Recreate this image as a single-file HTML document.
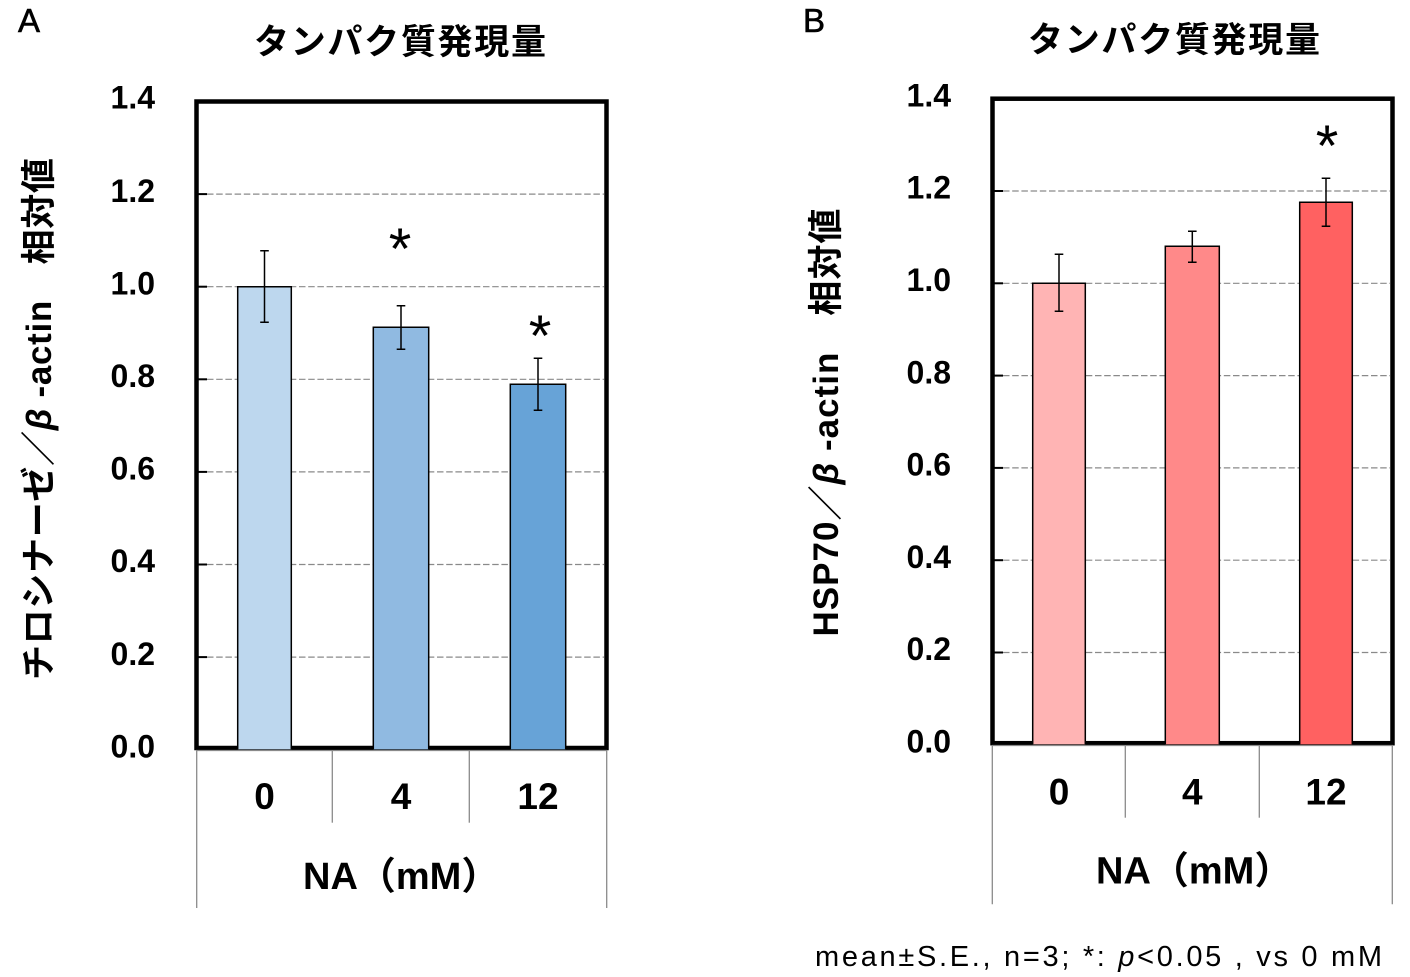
<!DOCTYPE html>
<html>
<head>
<meta charset="utf-8">
<style>
  html, body { margin: 0; padding: 0; background: #ffffff; }
  body { width: 1410px; height: 977px; overflow: hidden; }
  svg { display: block; }
  text { font-family: "Liberation Sans", "Noto Sans CJK JP", sans-serif; fill: #000; }
  .tick { font-size: 32px; font-weight: bold; }
  .cat { font-size: 37px; font-weight: bold; }
  .na { font-size: 38px; font-weight: bold; }
  .title { font-size: 35px; font-weight: bold; font-family: "Noto Sans CJK JP", "Liberation Sans", sans-serif; }
  .ylab { font-size: 35px; font-weight: bold; }
  .panel { font-size: 33px; stroke: #000; stroke-width: 0.6px; }
  .star { font-size: 58px; }
  .foot { font-size: 29px; }
</style>
</head>
<body>
<svg width="1410" height="977" viewBox="0 0 1410 977" xmlns="http://www.w3.org/2000/svg">
  <rect x="0" y="0" width="1410" height="977" fill="#ffffff"/>

  <!-- ================= PANEL A ================= -->
  <text class="panel" x="18" y="32">A</text>
  <text class="title" x="254" y="54" textLength="292" lengthAdjust="spacing">タンパク質発現量</text>

  <text class="ylab" transform="translate(51,419) rotate(-90)" text-anchor="middle" textLength="522" lengthAdjust="spacing">チロシナーゼ／<tspan font-style="italic">β</tspan> -actin　相対値</text>

  <g stroke="#8a8a8a" stroke-width="1.2" stroke-dasharray="6.5 2.7" fill="none">
    <line x1="207" y1="194.1" x2="604" y2="194.1"/>
    <line x1="207" y1="286.7" x2="604" y2="286.7"/>
    <line x1="207" y1="379.3" x2="604" y2="379.3"/>
    <line x1="207" y1="471.9" x2="604" y2="471.9"/>
    <line x1="207" y1="564.5" x2="604" y2="564.5"/>
    <line x1="207" y1="657.1" x2="604" y2="657.1"/>
  </g>
  <g stroke="#000" stroke-width="2">
    <line x1="198" y1="194.1" x2="207" y2="194.1"/>
    <line x1="198" y1="286.7" x2="207" y2="286.7"/>
    <line x1="198" y1="379.3" x2="207" y2="379.3"/>
    <line x1="198" y1="471.9" x2="207" y2="471.9"/>
    <line x1="198" y1="564.5" x2="207" y2="564.5"/>
    <line x1="198" y1="657.1" x2="207" y2="657.1"/>
  </g>

  <rect x="196.5" y="101.5" width="410" height="646.5" fill="none" stroke="#000" stroke-width="4.5"/>
  <line x1="196" y1="750.5" x2="607" y2="750.5" stroke="#8a8a8a" stroke-width="1.2"/>

  <rect x="237.7" y="286.7" width="53.6" height="462.6" fill="#BDD7EE"/>
  <path d="M237.7 749.3 V286.7 H291.3 V749.3" fill="none" stroke="#000" stroke-width="1.5"/>
  <rect x="373.3" y="327.3" width="55.4" height="422" fill="#90BAE1"/>
  <path d="M373.3 749.3 V327.3 H428.7 V749.3" fill="none" stroke="#000" stroke-width="1.5"/>
  <rect x="510.3" y="384.3" width="55.4" height="365" fill="#67A3D7"/>
  <path d="M510.3 749.3 V384.3 H565.7 V749.3" fill="none" stroke="#000" stroke-width="1.5"/>

  <g stroke="#000" stroke-width="1.5" fill="none">
    <path d="M264.5 250.7 V322.3 M260.2 250.7 H268.8 M260.2 322.3 H268.8"/>
    <path d="M401 305.7 V349.3 M396.7 305.7 H405.3 M396.7 349.3 H405.3"/>
    <path d="M538 358.3 V410.3 M533.7 358.3 H542.3 M533.7 410.3 H542.3"/>
  </g>
  <text class="star" x="400" y="269" text-anchor="middle">*</text>
  <text class="star" x="540" y="356" text-anchor="middle">*</text>

  <g>
    <text class="tick" x="155" y="108.4" text-anchor="end">1.4</text>
    <text class="tick" x="155" y="201.8" text-anchor="end">1.2</text>
    <text class="tick" x="155" y="294.4" text-anchor="end">1.0</text>
    <text class="tick" x="155" y="387" text-anchor="end">0.8</text>
    <text class="tick" x="155" y="479.6" text-anchor="end">0.6</text>
    <text class="tick" x="155" y="572.2" text-anchor="end">0.4</text>
    <text class="tick" x="155" y="664.8" text-anchor="end">0.2</text>
    <text class="tick" x="155" y="757.4" text-anchor="end">0.0</text>
  </g>

  <g stroke="#8a8a8a" stroke-width="1.3">
    <line x1="196.7" y1="750" x2="196.7" y2="908"/>
    <line x1="332.3" y1="750" x2="332.3" y2="822.7"/>
    <line x1="469.3" y1="750" x2="469.3" y2="822.7"/>
    <line x1="606.7" y1="750" x2="606.7" y2="908"/>
  </g>
  <text class="cat" x="264.5" y="809" text-anchor="middle">0</text>
  <text class="cat" x="401" y="809" text-anchor="middle">4</text>
  <text class="cat" x="538" y="809" text-anchor="middle">12</text>
  <text class="na" x="303" y="889">NA（mM）</text>

  <!-- ================= PANEL B ================= -->
  <text class="panel" x="803" y="32">B</text>
  <text class="title" x="1028" y="52" textLength="292" lengthAdjust="spacing">タンパク質発現量</text>

  <text class="ylab" transform="translate(838,422.5) rotate(-90)" text-anchor="middle" textLength="428" lengthAdjust="spacing">HSP70／<tspan font-style="italic">β</tspan> -actin　相対値</text>

  <g stroke="#8a8a8a" stroke-width="1.2" stroke-dasharray="6.5 2.7" fill="none">
    <line x1="1003" y1="191" x2="1390" y2="191"/>
    <line x1="1003" y1="283.3" x2="1390" y2="283.3"/>
    <line x1="1003" y1="375.6" x2="1390" y2="375.6"/>
    <line x1="1003" y1="467.9" x2="1390" y2="467.9"/>
    <line x1="1003" y1="560.2" x2="1390" y2="560.2"/>
    <line x1="1003" y1="652.5" x2="1390" y2="652.5"/>
  </g>
  <g stroke="#000" stroke-width="2">
    <line x1="994" y1="191" x2="1003" y2="191"/>
    <line x1="994" y1="283.3" x2="1003" y2="283.3"/>
    <line x1="994" y1="375.6" x2="1003" y2="375.6"/>
    <line x1="994" y1="467.9" x2="1003" y2="467.9"/>
    <line x1="994" y1="560.2" x2="1003" y2="560.2"/>
    <line x1="994" y1="652.5" x2="1003" y2="652.5"/>
  </g>

  <rect x="992.5" y="98.7" width="400" height="644.5" fill="none" stroke="#000" stroke-width="4.5"/>
  <line x1="992" y1="745.5" x2="1393" y2="745.5" stroke="#8a8a8a" stroke-width="1.2"/>

  <rect x="1032.7" y="283.3" width="52.6" height="461" fill="#FFB4B4"/>
  <path d="M1032.7 744.3 V283.3 H1085.3 V744.3" fill="none" stroke="#000" stroke-width="1.5"/>
  <rect x="1165.3" y="246.3" width="54" height="498" fill="#FF8989"/>
  <path d="M1165.3 744.3 V246.3 H1219.3 V744.3" fill="none" stroke="#000" stroke-width="1.5"/>
  <rect x="1299.7" y="202.3" width="52.6" height="542" fill="#FF6161"/>
  <path d="M1299.7 744.3 V202.3 H1352.3 V744.3" fill="none" stroke="#000" stroke-width="1.5"/>

  <g stroke="#000" stroke-width="1.5" fill="none">
    <path d="M1059 254.3 V311.3 M1054.7 254.3 H1063.3 M1054.7 311.3 H1063.3"/>
    <path d="M1192.3 231.3 V262.3 M1188 231.3 H1196.6 M1188 262.3 H1196.6"/>
    <path d="M1326 178.3 V226.3 M1321.7 178.3 H1330.3 M1321.7 226.3 H1330.3"/>
  </g>
  <text class="star" x="1327" y="166" text-anchor="middle">*</text>

  <g>
    <text class="tick" x="951" y="106.4" text-anchor="end">1.4</text>
    <text class="tick" x="951" y="198.7" text-anchor="end">1.2</text>
    <text class="tick" x="951" y="291" text-anchor="end">1.0</text>
    <text class="tick" x="951" y="383.3" text-anchor="end">0.8</text>
    <text class="tick" x="951" y="475.6" text-anchor="end">0.6</text>
    <text class="tick" x="951" y="567.9" text-anchor="end">0.4</text>
    <text class="tick" x="951" y="660.2" text-anchor="end">0.2</text>
    <text class="tick" x="951" y="752.5" text-anchor="end">0.0</text>
  </g>

  <g stroke="#8a8a8a" stroke-width="1.3">
    <line x1="992.3" y1="745" x2="992.3" y2="904.3"/>
    <line x1="1125.3" y1="745" x2="1125.3" y2="817.7"/>
    <line x1="1259.3" y1="745" x2="1259.3" y2="817.7"/>
    <line x1="1392.3" y1="745" x2="1392.3" y2="904.3"/>
  </g>
  <text class="cat" x="1059" y="804.3" text-anchor="middle">0</text>
  <text class="cat" x="1192.3" y="804.3" text-anchor="middle">4</text>
  <text class="cat" x="1326" y="804.3" text-anchor="middle">12</text>
  <text class="na" x="1096" y="883.3">NA（mM）</text>

  <text class="foot" x="815" y="966" textLength="567" lengthAdjust="spacing">mean±S.E., n=3; *: <tspan font-style="italic">p</tspan>&lt;0.05 , vs 0 mM</text>
</svg>
</body>
</html>
